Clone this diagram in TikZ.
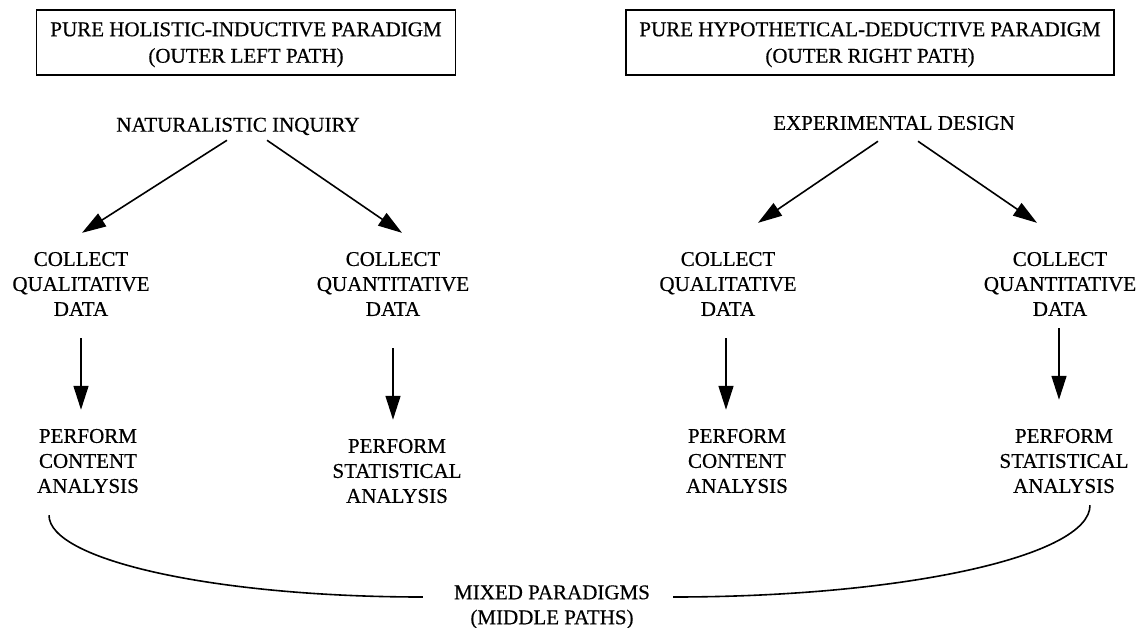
\documentclass[tikz,border=0pt]{standalone}
\usepackage{fontspec}
\setmainfont{Liberation Serif}[FakeBold=0.5]
\usetikzlibrary{arrows.meta,calc}
\begin{document}
\begin{tikzpicture}[x=1pt,y=-1pt,
  every node/.style={font=\fontsize{21}{25}\selectfont, inner sep=0pt, align=center},
  frame/.style={draw, line width=1.6pt, minimum height=65pt, text depth=0pt,
                font=\fontsize{21}{26.5}\selectfont},
  link/.style={line width=1.6pt, -{Triangle[length=24pt,width=15pt]}},
  sweep/.style={line width=1.6pt}]
\useasboundingbox (0,0) rectangle (1143,627);

% paradigm headings
\node[frame, minimum width=419pt] (boxL) at (246,42.5) {PURE HOLISTIC-INDUCTIVE PARADIGM\\(OUTER LEFT PATH)};
\node[frame, minimum width=488pt] (boxR) at (870,42.5) {PURE HYPOTHETICAL-DEDUCTIVE PARADIGM\\(OUTER RIGHT PATH)};

% designs
\node (ni) at (238,126.4) {NATURALISTIC INQUIRY};
\node (ed) at (894,123) {EXPERIMENTAL DESIGN};

% data collection
\node (cql)  at (81,284)   {COLLECT\\QUALITATIVE\\DATA};
\node (cqnl) at (393,284)  {COLLECT\\QUANTITATIVE\\DATA};
\node (cqr)  at (728,284)  {COLLECT\\QUALITATIVE\\DATA};
\node (cqnr) at (1060,284) {COLLECT\\QUANTITATIVE\\DATA};

% analysis
\node (pcl) at (88,461)   {PERFORM\\CONTENT\\ANALYSIS};
\node (psl) at (397,471)  {PERFORM\\STATISTICAL\\ANALYSIS};
\node (pcr) at (737,461)  {PERFORM\\CONTENT\\ANALYSIS};
\node (psr) at (1064,461) {PERFORM\\STATISTICAL\\ANALYSIS};

% middle paths
\node (mixed) at (552,607) {MIXED PARADIGMS\\(MIDDLE PATHS)};

% design -> collection
\draw[link] ($(ni.south)+(-11,5)$) -- ($(cql.north)+(1,-19)$);
\draw[link] ($(ni.south)+(29,5)$) -- ($(cqnl.north)+(9,-19)$);
\draw[link] ($(ed.south)+(-16,11)$) -- ($(cqr.north)+(30,-29)$);
\draw[link] ($(ed.south)+(24,11)$) -- ($(cqnr.north)+(-23,-29)$);

% collection -> analysis
\draw[link] ($(cql.south)+(0,22)$) -- ($(cql.south |- pcl.north)+(0,-19)$);
\draw[link] ($(cqnl.south)+(0,32)$) -- ($(cqnl.south |- psl.north)+(0,-19)$);
\draw[link] ($(cqr.south)+(-2,22)$) -- ($(cqr.south |- pcr.north)+(-2,-19)$);
\draw[link] ($(cqnr.south)+(-1,12)$) -- ($(cqnr.south |- psr.north)+(-1,-29)$);

% sweeps joining the outer paths in the middle
\coordinate (cl0) at ($(pcl.south)+(-39,22)$);
\coordinate (cl1) at ($(mixed.west)+(-31,-10)$);
\draw[sweep] (cl0) .. controls ($(cl0)+(0,45)$) and ($(cl1)+(-207,0)$) .. (cl1);
\coordinate (cr0) at ($(psr.south)+(26,12)$);
\coordinate (cr1) at ($(mixed.east)+(23,-10)$);
\draw[sweep] (cr0) .. controls ($(cr0)+(0,51)$) and ($(cr1)+(230,0)$) .. (cr1);
\end{tikzpicture}
\end{document}
